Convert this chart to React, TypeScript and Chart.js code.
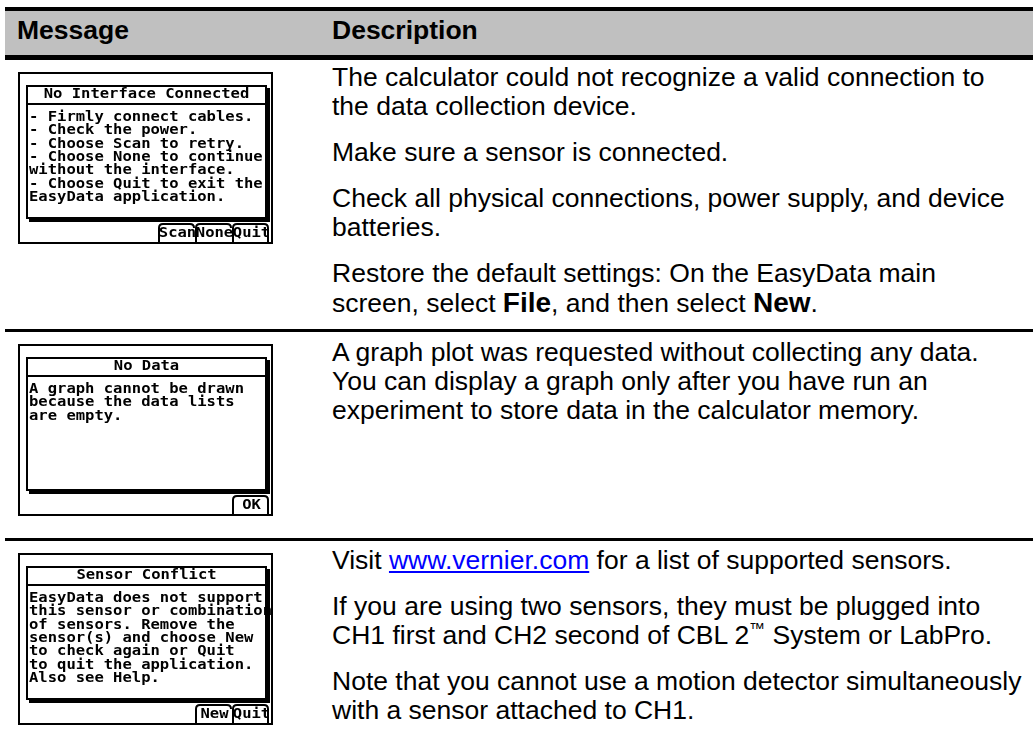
import React, { useEffect, useRef } from "react";
import { Chart, registerables } from "chart.js";

Chart.register(...registerables);

// ---------- data ----------
const headerLabels = ["Message", "Description"];

const screenTitles = ["No Interface Connected", "No Data", "Sensor Conflict"];

const screen1Lines = [
  "- Firmly connect cables.",
  "- Check the power.",
  "- Choose Scan to retry.",
  "- Choose None to continue",
  "without the interface.",
  "- Choose Quit to exit the",
  "EasyData application.",
];
const screen2Lines = ["A graph cannot be drawn", "because the data lists", "are empty."];
const screen3Lines = [
  "EasyData does not support",
  "this sensor or combination",
  "of sensors. Remove the",
  "sensor(s) and choose New",
  "to check again or Quit",
  "to quit the application.",
  "Also see Help.",
];

const screen1Buttons = ["Scan", "None", "Quit"];
const screen2Buttons = ["OK"];
const screen3Buttons = ["New", "Quit"];
// menu slot (0..4) of the first button of each screen
const screen1FirstSlot = 2;
const screen2FirstSlot = 4;
const screen3FirstSlot = 3;

// description paragraphs: each paragraph is a list of lines
const row1Paragraphs = [
  ["The calculator could not recognize a valid connection to", "the data collection device."],
  ["Make sure a sensor is connected."],
  ["Check all physical connections, power supply, and device", "batteries."],
  ["Restore the default settings: On the EasyData main", "screen, select **File**, and then select **New**."],
];
const row2Paragraphs = [
  [
    "A graph plot was requested without collecting any data.",
    "You can display a graph only after you have run an",
    "experiment to store data in the calculator memory.",
  ],
];
const row3Paragraphs = [
  ["Visit [[www.vernier.com]] for a list of supported sensors."],
  ["If you are using two sensors, they must be plugged into", "CH1 first and CH2 second of CBL 2™ System or LabPro."],
  ["Note that you cannot use a motion detector simultaneously", "with a sensor attached to CH1."],
];

// ---------- screen drawing (Chart.js plugin) ----------
const SW = 255;
const SH = 172;

type ScreenSpec = {
  title: string;
  lines: string[];
  buttons: string[];
  firstSlot: number;
};

function drawScreen(ctx: CanvasRenderingContext2D, spec: ScreenSpec) {
  const fr = (x: number, y: number, w: number, h: number) => ctx.fillRect(x, y, w, h);
  ctx.save();
  ctx.fillStyle = "#ffffff";
  fr(0, 0, SW, SH);
  ctx.fillStyle = "#000000";
  // outer frame
  fr(0, 0, SW, 2);
  fr(0, SH - 2, SW, 2);
  fr(0, 0, 2, SH);
  fr(SW - 2, 0, 2, SH);
  // dialog
  const dl = 8, dt = 13, dr = 249, db = 147;
  fr(dl, dt, dr - dl, 2);
  fr(dl, dt, 2, db - dt);
  fr(dr - 2, dt, 2, db - dt);
  fr(dl, db - 2, dr - dl, 2);
  // shadow
  fr(dr, dt + 3, 3, db - dt);
  fr(dl + 3, db, dr - dl, 3);
  // title separator
  fr(dl, 31, dr - dl, 2);

  const sx = 1.15;
  ctx.font = 'bold 13.5px "DejaVu Sans Mono", monospace';
  ctx.textBaseline = "middle";
  ctx.textAlign = "left";
  const txt = (s: string, x: number, y: number, center = false) => {
    const w = ctx.measureText(s).width * sx;
    ctx.save();
    ctx.translate(center ? x - w / 2 : x, y);
    ctx.scale(sx, 1);
    ctx.fillText(s, 0, 0);
    ctx.restore();
  };
  txt(spec.title, (dl + dr) / 2, 22.5, true);
  spec.lines.forEach((s, i) => txt(s, dl + 3, 45.5 + i * 13.3));

  // menu tabs
  const slotX = [66, 103, 140, 177, 214];
  const tabW = 37;
  const top = 151;
  const bottom = SH - 2;
  ctx.strokeStyle = "#000";
  ctx.lineWidth = 2;
  spec.buttons.forEach((b, i) => {
    const l = slotX[spec.firstSlot + i];
    const r = l + tabW;
    const last = i === spec.buttons.length - 1;
    ctx.beginPath();
    ctx.moveTo(l + 1, bottom);
    ctx.lineTo(l + 1, top + 5);
    ctx.quadraticCurveTo(l + 1, top + 1, l + 5, top + 1);
    ctx.lineTo(r - 5, top + 1);
    ctx.quadraticCurveTo(r - 1, top + 1, r - 1, top + 5);
    if (last) ctx.lineTo(r - 1, bottom);
    ctx.stroke();
    txt(b, l + tabW / 2 + 1, 161.5, true);
  });
  ctx.restore();
}

function Screen({ spec, top }: { spec: ScreenSpec; top: number }) {
  const ref = useRef<HTMLCanvasElement | null>(null);
  useEffect(() => {
    if (!ref.current) return;
    const plugin = {
      id: "tiScreen",
      afterDraw(chart: any) {
        drawScreen(chart.ctx, spec);
      },
    };
    const chart = new Chart(ref.current, {
      type: "scatter",
      data: { datasets: [] },
      options: {
        animation: false,
        responsive: false,
        maintainAspectRatio: false,
        events: [],
        layout: { padding: 0 },
        plugins: { legend: { display: false }, tooltip: { enabled: false } },
        scales: { x: { display: false }, y: { display: false } },
      },
      plugins: [plugin],
    } as any);
    return () => chart.destroy();
  }, [spec]);
  return (
    <canvas
      ref={ref}
      width={SW}
      height={SH}
      style={{ position: "absolute", left: 18, top, width: SW, height: SH }}
    />
  );
}

// ---------- text rendering ----------
function renderLine(line: string, key: number) {
  const parts = line.split(/(\*\*[^*]+\*\*|\[\[[^\]]+\]\]|™)/);
  return (
    <div key={key} style={{ whiteSpace: "nowrap" }}>
      {parts.map((p, i) => {
        if (p.startsWith("**"))
          return (
            <b key={i} style={{ fontSize: 28 }}>
              {p.slice(2, -2)}
            </b>
          );
        if (p.startsWith("[["))
          return (
            <span key={i} style={{ color: "#0000ff", textDecoration: "underline" }}>
              {p.slice(2, -2)}
            </span>
          );
        if (p === "™")
          return (
            <span key={i} style={{ fontSize: "0.6em", verticalAlign: "0.6em", lineHeight: 0 }}>
              ™
            </span>
          );
        return <span key={i}>{p}</span>;
      })}
    </div>
  );
}

function Description({ paragraphs, top }: { paragraphs: string[][]; top: number }) {
  return (
    <div
      style={{
        position: "absolute",
        left: 332,
        top,
        fontSize: 26.5,
        lineHeight: "29px",
        color: "#000",
      }}
    >
      {paragraphs.map((para, pi) => (
        <div key={pi} style={{ marginTop: pi === 0 ? 0 : 17 }}>
          {para.map((l, li) => renderLine(l, li))}
        </div>
      ))}
    </div>
  );
}

const spec1: ScreenSpec = { title: screenTitles[0], lines: screen1Lines, buttons: screen1Buttons, firstSlot: screen1FirstSlot };
const spec2: ScreenSpec = { title: screenTitles[1], lines: screen2Lines, buttons: screen2Buttons, firstSlot: screen2FirstSlot };
const spec3: ScreenSpec = { title: screenTitles[2], lines: screen3Lines, buttons: screen3Buttons, firstSlot: screen3FirstSlot };

export default function App() {
  const bar = (top: number, height: number, color = "#000") => (
    <div style={{ position: "absolute", left: 5, top, width: 1028, height, background: color }} />
  );
  const headStyle: React.CSSProperties = {
    position: "absolute",
    top: 16.3,
    fontSize: 26.5,
    lineHeight: "29px",
    fontWeight: "bold",
  };
  return (
    <div
      style={{
        position: "absolute",
        left: 0,
        top: 0,
        width: 1033,
        height: 746,
        overflow: "hidden",
        background: "#fff",
        fontFamily: '"Liberation Sans", Arial, Helvetica, sans-serif',
      }}
    >
      {bar(11, 44, "#c0c0c0")}
      {bar(7, 4)}
      {bar(55, 5)}
      <div style={{ ...headStyle, left: 17 }}>{headerLabels[0]}</div>
      <div style={{ ...headStyle, left: 332 }}>{headerLabels[1]}</div>
      {bar(329, 3)}
      {bar(538, 3)}
      <Screen spec={spec1} top={72} />
      <Screen spec={spec2} top={344} />
      <Screen spec={spec3} top={553} />
      <Description paragraphs={row1Paragraphs} top={63.3} />
      <Description paragraphs={row2Paragraphs} top={338.3} />
      <Description paragraphs={row3Paragraphs} top={546.3} />
    </div>
  );
}
